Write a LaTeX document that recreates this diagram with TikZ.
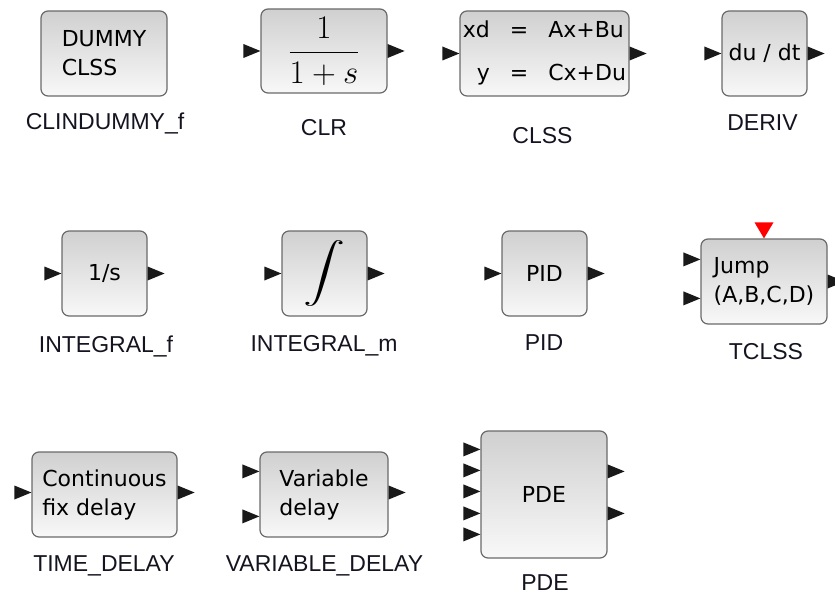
\RequirePackage{fix-cm}
\documentclass[tikz,border=0pt]{standalone}
\usepackage{fontspec}
\usepackage{graphicx}
\setmainfont{DejaVu Sans}
\newfontfamily\lblfont{Liberation Sans}
\usetikzlibrary{calc}

\definecolor{blockedge}{HTML}{6A6A6A}
\definecolor{blocktop}{HTML}{D0D0D0}
\definecolor{blockbot}{HTML}{F8F8F8}
\definecolor{lbltext}{HTML}{141420}

% ports: offset measured downwards from the given anchor
\newcommand{\inport}[2]{\fill[black!90] ($(#1)+(0,#2)$) -- ++(-17,-7) -- ++(0,14) -- cycle;}
\newcommand{\outport}[2]{\fill[black!90] ($(#1)+(0,#2)$) ++(0,-7) -- ++(17,7) -- ++(-17,7) -- cycle;}

\begin{document}
\begin{tikzpicture}[x=1pt,y=-1pt]
        \tikzstyle{block}=[draw=blockedge,line width=1.2pt,rounded corners=7pt,top color=blocktop,bottom color=blockbot,inner sep=0pt,align=left,font=\fontsize{22}{29}\selectfont]
        \tikzstyle{lbl}=[font=\lblfont\fontsize{23}{27}\selectfont,text=lbltext,anchor=base,inner sep=0pt]
        \useasboundingbox (0,0) rectangle (835,596);
        % first row
        \node[block,minimum width=126pt,minimum height=85pt] (clindummy) at (104,53.5) {DUMMY\\CLSS};
        \node[block,minimum width=126pt,minimum height=84pt] (clr) at (324,51) {\scalebox{1.5}{$\displaystyle\frac{1}{1+s}$}};
        \node[block,minimum width=169pt,minimum height=85pt] (clss) at (544.5,53.5) {\begin{tabular}{@{}r@{\hspace{20pt}}c@{\hspace{20pt}}l@{}}xd & = & Ax+Bu\\[14pt] y & = & Cx+Du\end{tabular}};
        \node[block,minimum size=85pt] (deriv) at (764.5,53.5) {du / dt};
        % second row
        \node[block,minimum size=85pt] (integral_f) at (104.5,273.5) {1/s};
        \node[block,minimum size=85pt] (integral_m) at (324.5,273.5) {\resizebox*{42pt}{66pt}{$\displaystyle\int$}};
        \node[block,minimum size=85pt] (pid) at (544.5,273.5) {PID};
        \node[block,minimum width=126pt,minimum height=85pt] (tclss) at (764,281.5) {Jump\\(A,B,C,D)};
        % third row
        \node[block,minimum width=145pt,minimum height=85pt] (time_delay) at (104.5,494.5) {Continuous\\fix delay};
        \node[block,minimum width=128pt,minimum height=85pt] (variable_delay) at (324,494.5) {Variable\\delay};
        \node[block,minimum width=126pt,minimum height=127pt] (pde) at (544,494.5) {PDE};

        \inport{clr.west}{0} \outport{clr.east}{0}
        \inport{clss.west}{0} \outport{clss.east}{0}
        \inport{deriv.west}{0} \outport{deriv.east}{0}
        \inport{integral_f.west}{0} \outport{integral_f.east}{0}
        \inport{integral_m.west}{0} \outport{integral_m.east}{0}
        \inport{pid.west}{0} \outport{pid.east}{0}
        \inport{tclss.north west}{21} \inport{tclss.north west}{60}
        \outport{tclss.east}{0}
        \fill[red] (tclss.north) -- ++(-9.5,-16) -- ++(19,0) -- cycle;
        \inport{time_delay.west}{-2} \outport{time_delay.east}{-2}
        \inport{variable_delay.north west}{20} \inport{variable_delay.north west}{65}
        \outport{variable_delay.east}{-2}
        \foreach \dy in {19,40,61,83,104} {\inport{pde.north west}{\dy}}
        \outport{pde.north east}{41} \outport{pde.north east}{83}

        \node[lbl] (clindummy_lbl) at (105,130) {CLINDUMMY\_f};
        \node[lbl] (clr_lbl) at (324,136) {CLR};
        \node[lbl] (clss_lbl) at (542.5,144) {CLSS};
        \node[lbl] (deriv_lbl) at (762.5,131) {DERIV};
        \node[lbl] (integral_f_lbl) at (106,352) {INTEGRAL\_f};
        \node[lbl] (integral_m_lbl) at (324,351) {INTEGRAL\_m};
        \node[lbl] (pid_lbl) at (544,350) {PID};
        \node[lbl] (tclss_lbl) at (766,359) {TCLSS};
        \node[lbl] (time_delay_lbl) at (104,571) {TIME\_DELAY};
        \node[lbl] (variable_delay_lbl) at (324.5,571) {VARIABLE\_DELAY};
        \node[lbl] (pde_lbl) at (545,590) {PDE};
      \end{tikzpicture}
\end{document}
